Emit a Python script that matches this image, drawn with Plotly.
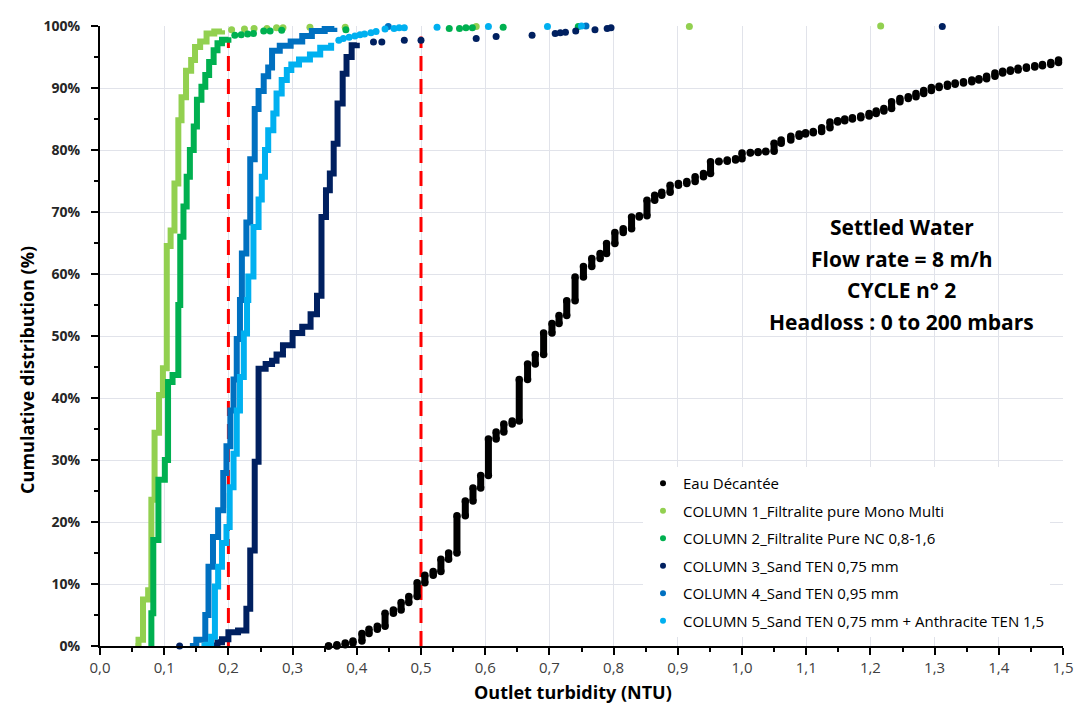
import plotly.graph_objects as go

# ---------------- data ----------------
black_x = [0.356, 0.369, 0.382, 0.394, 0.408, 0.419, 0.432, 0.444, 0.457, 0.469,
           0.481, 0.494, 0.506, 0.519, 0.531, 0.543, 0.556, 0.569, 0.581, 0.593,
           0.605, 0.617, 0.629, 0.642, 0.653, 0.666, 0.678, 0.691, 0.704, 0.715,
           0.727, 0.740, 0.753, 0.766, 0.779, 0.789, 0.802, 0.815, 0.828, 0.840,
           0.852, 0.864, 0.875, 0.888, 0.901, 0.914, 0.927, 0.940, 0.951, 0.964,
           0.977, 0.990, 1.000, 1.013, 1.025, 1.037, 1.050, 1.061, 1.076, 1.089,
           1.099, 1.111, 1.124, 1.137, 1.149, 1.160, 1.172, 1.185, 1.198, 1.209,
           1.221, 1.233, 1.246, 1.259, 1.271, 1.283, 1.295, 1.307, 1.320, 1.332,
           1.345, 1.358, 1.369, 1.381, 1.394, 1.406, 1.418, 1.430, 1.443, 1.456,
           1.468, 1.481, 1.493]
black_y = [0.0, 0.2, 0.5, 0.8, 2.0, 2.7, 3.2, 5.3, 5.8, 7.0,
           8.0, 10.2, 11.4, 12.0, 14.0, 15.0, 21.0, 23.4, 25.5, 27.5,
           33.4, 34.5, 35.8, 36.3, 43.0, 45.5, 47.0, 50.5, 52.0, 53.3,
           55.7, 59.5, 61.2, 62.5, 63.3, 64.9, 66.7, 67.3, 69.2, 69.4,
           71.9, 72.7, 73.2, 74.3, 74.6, 74.9, 75.7, 76.2, 78.1, 78.2,
           78.4, 78.6, 79.5, 79.6, 79.7, 79.8, 81.1, 81.6, 82.2, 82.6,
           82.8, 83.0, 83.6, 84.5, 84.7, 85.0, 85.2, 85.5, 85.9, 86.3,
           86.7, 87.8, 88.3, 88.6, 89.1, 89.6, 90.1, 90.3, 90.6, 90.8,
           91.0, 91.3, 91.5, 91.9, 92.4, 92.7, 92.9, 93.2, 93.4, 93.6,
           93.8, 94.1, 94.5]

c1_x = [0.055, 0.060, 0.067, 0.075, 0.080, 0.085, 0.092, 0.098, 0.104, 0.110,
        0.116, 0.122, 0.127, 0.134, 0.142, 0.148, 0.156, 0.166, 0.178, 0.190]
c1_y = [0.0, 1.0, 7.5, 9.0, 23.6, 34.4, 40.5, 44.8, 64.5, 67.0,
        74.6, 84.8, 88.5, 92.8, 94.5, 96.6, 97.5, 98.8, 99.1, 99.3]
c1_tail_x = [0.205, 0.225, 0.240, 0.260, 0.275, 0.285, 0.327, 0.382, 0.586, 0.918, 1.216]
c1_tail_y = [99.4, 99.5, 99.6, 99.6, 99.7, 99.7, 99.8, 99.8, 99.9, 99.9, 100.0]

c2_x = [0.078, 0.080, 0.083, 0.091, 0.101, 0.106, 0.113, 0.122, 0.125, 0.130,
        0.135, 0.140, 0.146, 0.151, 0.158, 0.164, 0.170, 0.177, 0.183, 0.190, 0.200]
c2_y = [0.0, 5.3, 17.1, 26.8, 30.0, 42.6, 43.7, 55.0, 66.0, 70.9,
        75.7, 80.0, 83.8, 88.1, 90.2, 92.1, 94.2, 96.1, 97.2, 97.8, 98.2]
c2_tail_x = [0.210, 0.220, 0.230, 0.239, 0.255, 0.265, 0.283, 0.383, 0.544, 0.560,
             0.570, 0.580, 0.628, 0.745]
c2_tail_y = [98.5, 98.6, 98.7, 98.8, 99.2, 99.2, 99.3, 99.4, 99.6, 99.6,
             99.7, 99.7, 99.8, 99.9]

c3_x = [0.176, 0.183, 0.190, 0.200, 0.215, 0.228, 0.234, 0.241, 0.247, 0.258,
        0.268, 0.275, 0.285, 0.300, 0.315, 0.328, 0.338, 0.345, 0.352, 0.358,
        0.364, 0.370, 0.378, 0.384, 0.392, 0.400]
c3_y = [0.1, 0.6, 1.1, 2.2, 2.5, 6.0, 15.4, 29.7, 44.7, 45.5,
        46.0, 47.0, 48.5, 50.5, 51.5, 53.5, 56.5, 69.2, 73.5, 76.2,
        81.0, 87.5, 92.3, 95.0, 96.9, 97.3]
c3_tail_x = [0.124, 0.426, 0.439, 0.474, 0.500, 0.586, 0.617, 0.673, 0.709, 0.717,
             0.725, 0.741, 0.771, 0.790, 0.796, 1.312]
c3_tail_y = [0.0, 97.4, 97.4, 97.7, 97.7, 98.0, 98.3, 98.5, 98.8, 98.9,
             99.0, 99.2, 99.4, 99.6, 99.7, 99.9]

c4_x = [0.140, 0.150, 0.164, 0.169, 0.176, 0.184, 0.192, 0.197, 0.203, 0.208,
        0.213, 0.218, 0.221, 0.228, 0.234, 0.241, 0.247, 0.255, 0.262, 0.268,
        0.280, 0.297, 0.315, 0.330, 0.350, 0.365]
c4_y = [0.0, 1.0, 5.0, 12.8, 17.6, 21.9, 27.9, 32.2, 38.0, 43.0,
        49.5, 55.8, 63.3, 68.3, 78.5, 86.6, 89.5, 91.9, 93.3, 96.0,
        96.8, 97.5, 98.4, 99.2, 99.5, 99.7]
c4_tail_x = [0.449, 0.757]
c4_tail_y = [99.9, 100.0]

c5_x = [0.158, 0.166, 0.173, 0.179, 0.184, 0.190, 0.197, 0.202, 0.208, 0.213,
        0.218, 0.224, 0.229, 0.231, 0.239, 0.247, 0.252, 0.257, 0.262, 0.270,
        0.275, 0.283, 0.291, 0.298, 0.310, 0.327, 0.343, 0.360]
c5_y = [0.0, 0.2, 1.5, 9.6, 12.8, 16.6, 19.2, 25.6, 31.0, 38.0,
        43.4, 50.4, 55.8, 59.6, 67.6, 72.0, 75.7, 80.0, 83.2, 85.9,
        89.1, 91.3, 92.9, 93.8, 94.6, 95.4, 96.5, 97.3]
c5_tail_x = [0.372, 0.379, 0.388, 0.397, 0.405, 0.412, 0.422, 0.430, 0.444, 0.458,
             0.466, 0.474, 0.525, 0.605, 0.697, 0.750]
c5_tail_y = [97.7, 98.0, 98.2, 98.4, 98.6, 98.7, 98.9, 99.1, 99.5, 99.6,
             99.7, 99.7, 99.8, 99.9, 99.9, 100.0]

threshold_x = [0.2, 0.5]
threshold_top = [97.5, 98.3]

names = ["Eau Décantée",
         "COLUMN 1_Filtralite pure Mono Multi",
         "COLUMN 2_Filtralite Pure NC 0,8-1,6",
         "COLUMN 3_Sand TEN 0,75 mm",
         "COLUMN 4_Sand TEN 0,95 mm",
         "COLUMN 5_Sand TEN 0,75 mm + Anthracite TEN 1,5"]
colors = ["#000000", "#92D050", "#00B050", "#002060", "#0070C0", "#00B0F0"]

info_lines = ["Settled Water", "Flow rate = 8 m/h", "CYCLE n° 2",
              "Headloss : 0 to 200 mbars"]
info_y = [67.6, 62.5, 57.4, 52.3]

FONT = "Open Sans"

fig = go.Figure()

# red dashed threshold lines (behind data)
rx, ry = [], []
for tx, tt in zip(threshold_x, threshold_top):
    rx += [tx, tx, None]
    ry += [0, tt, None]
fig.add_trace(go.Scatter(x=rx, y=ry, mode="lines", showlegend=False,
                         line=dict(color="#FF0000", width=3, dash="15px,8px"),
                         hoverinfo="skip"))

# black: vertical stacks of dots
bx, by = [], []
prev = black_y[0]
for x, y in zip(black_x, black_y):
    bx += [x, x, None]
    by += [prev, y, None]
    prev = y
fig.add_trace(go.Scatter(x=bx, y=by, mode="lines+markers", showlegend=False,
                         line=dict(color=colors[0], width=7),
                         marker=dict(color=colors[0], size=7.5),
                         cliponaxis=False, legendgroup="g0"))

series = [(c1_x, c1_y, c1_tail_x, c1_tail_y),
          (c2_x, c2_y, c2_tail_x, c2_tail_y),
          (c3_x, c3_y, c3_tail_x, c3_tail_y),
          (c4_x, c4_y, c4_tail_x, c4_tail_y),
          (c5_x, c5_y, c5_tail_x, c5_tail_y)]
for i, (sx, sy, tx, ty) in enumerate(series, start=1):
    fig.add_trace(go.Scatter(x=sx, y=sy, mode="lines", line_shape="hv",
                             line=dict(color=colors[i], width=6),
                             showlegend=False, cliponaxis=False,
                             legendgroup=f"g{i}"))
    fig.add_trace(go.Scatter(x=tx, y=ty, mode="markers",
                             marker=dict(color=colors[i], size=7),
                             showlegend=False, cliponaxis=False,
                             legendgroup=f"g{i}"))

# legend entries
for i, (nm, col) in enumerate(zip(names, colors)):
    fig.add_trace(go.Scatter(x=[None], y=[None], mode="markers", name=nm,
                             marker=dict(color=col, size=6),
                             legendgroup=f"g{i}"))

# white box behind the info text
fig.add_shape(type="rect", xref="x", yref="y", x0=0.99, x1=1.5, y0=50.5, y1=70.6,
              fillcolor="white", line=dict(width=0), layer="below")

for t, yy in zip(info_lines, info_y):
    fig.add_annotation(x=1.249, y=yy, xref="x", yref="y", text=t, showarrow=False,
                       xanchor="center", yanchor="middle",
                       font=dict(family=FONT, size=21, color="#000000", weight="bold"))

# axis titles
fig.add_annotation(x=-0.076, y=0.445, xref="paper", yref="paper",
                   text="Cumulative distribution (%)", textangle=-90, showarrow=False,
                   xanchor="center", yanchor="middle",
                   font=dict(family=FONT, size=18, color="#000000", weight="bold"))
fig.add_annotation(x=0.491, y=-0.074, xref="paper", yref="paper",
                   text="Outlet turbidity (NTU)", showarrow=False,
                   xanchor="center", yanchor="middle",
                   font=dict(family=FONT, size=18, color="#000000", weight="bold"))

fig.update_layout(
    width=1075, height=709,
    margin=dict(l=100, r=12, t=26, b=63, autoexpand=False),
    paper_bgcolor="white", plot_bgcolor="white",
    separators=", ",
    font=dict(family=FONT, color="#000000"),
    showlegend=True,
    legend=dict(x=(643 - 100) / 963, y=(646 - 467) / 620, xanchor="left", yanchor="top",
                bgcolor="white", borderwidth=0, tracegroupgap=5,
                font=dict(family=FONT, size=15, color="#000000")),
    xaxis=dict(range=[0, 1.5], tick0=0, dtick=0.1, tickformat=".1f",
               automargin=False,
               showgrid=True, gridcolor="#E1E3EA", gridwidth=1,
               showline=True, linecolor="#000000", linewidth=2,
               ticks="outside", ticklen=7, tickwidth=2, tickcolor="#000000",
               minor=dict(ticks="outside", ticklen=4, dtick=0.05, tickwidth=1.5,
                          tickcolor="#000000", showgrid=False),
               tickfont=dict(family=FONT, size=15, color="#404040"),
               zeroline=False, fixedrange=True),
    yaxis=dict(range=[0, 100], tick0=0, dtick=10, ticksuffix="%",
               automargin=False,
               showgrid=True, gridcolor="#E1E3EA", gridwidth=1,
               showline=True, linecolor="#000000", linewidth=2,
               ticks="outside", ticklen=7, tickwidth=2, tickcolor="#000000",
               minor=dict(ticks="outside", ticklen=4, dtick=5, tickwidth=1.5,
                          tickcolor="#000000", showgrid=False),
               tickfont=dict(family=FONT, size=14, color="#262626", weight="bold"),
               ticklabelstandoff=8,
               zeroline=False, fixedrange=True),
)

fig.write_html("out.html")
